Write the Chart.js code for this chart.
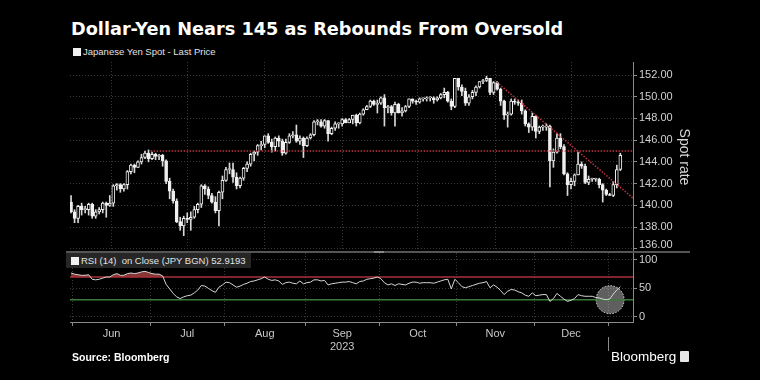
<!DOCTYPE html>
<html><head><meta charset="utf-8">
<script src="https://cdn.jsdelivr.net/npm/chart.js@4.4.1/dist/chart.umd.min.js"></script>
<style>
html,body{margin:0;padding:0;background:#000;}
#wrap{position:relative;width:760px;height:380px;overflow:hidden;background:#000;font-family:'Liberation Sans',Arial,sans-serif;}
#title{position:absolute;left:71px;top:19px;color:#fff;font-family:'DejaVu Sans',sans-serif;font-weight:bold;font-size:17.7px;line-height:20px;white-space:nowrap;}
.leg{position:absolute;color:#e2e2e2;font-size:9.5px;white-space:nowrap;line-height:12px;}
.sq{display:inline-block;width:8px;height:8px;background:#f0f0f0;margin-right:2px;vertical-align:-0.5px;}
#c1{position:absolute;left:0;top:0;}
#c2{position:absolute;left:0;top:253px;}
#sep{position:absolute;left:66px;top:251px;width:624px;height:2px;background:#555;}
#handle{position:absolute;left:374px;top:251px;width:10px;height:2px;background:#888;}
#rsiBox{position:absolute;left:66px;top:253px;width:185px;height:15px;background:#262626;}
#src{position:absolute;left:72px;top:351px;color:#fff;font-weight:bold;font-size:10.5px;white-space:nowrap;}
#logo{position:absolute;left:611px;top:349px;color:#fff;font-size:13.5px;white-space:nowrap;}
#logo .ic{display:inline-block;width:9px;height:11px;background:#e8e8e8;border-radius:1px;margin-left:4px;vertical-align:-1px;}
</style></head>
<body><div id="wrap">
<div id="title">Dollar-Yen Nears 145 as Rebounds From Oversold</div>
<div class="leg" style="left:73px;top:46px;"><span class="sq"></span>Japanese Yen Spot - Last Price</div>
<canvas id="c1" width="760" height="253"></canvas>
<canvas id="c2" width="760" height="127"></canvas>
<div id="sep"></div><div id="handle"></div>
<div id="rsiBox"></div>
<div class="leg" style="left:71px;top:255px;"><span class="sq"></span>RSI (14)&nbsp;&nbsp;on Close (JPY BGN) 52.9193</div>
<div id="src">Source: Bloomberg</div>
<div id="logo">Bloomberg<span class="ic"></span></div>
</div>
<script>
// ---------- data ----------
const dates = [
'2023-05-31',
'2023-06-01','2023-06-02','2023-06-05','2023-06-06','2023-06-07','2023-06-08','2023-06-09','2023-06-12','2023-06-13','2023-06-14','2023-06-15','2023-06-16','2023-06-19','2023-06-20','2023-06-21','2023-06-22','2023-06-23','2023-06-26','2023-06-27','2023-06-28','2023-06-29','2023-06-30',
'2023-07-03','2023-07-04','2023-07-05','2023-07-06','2023-07-07','2023-07-10','2023-07-11','2023-07-12','2023-07-13','2023-07-14','2023-07-17','2023-07-18','2023-07-19','2023-07-20','2023-07-21','2023-07-24','2023-07-25','2023-07-26','2023-07-27','2023-07-28','2023-07-31',
'2023-08-01','2023-08-02','2023-08-03','2023-08-04','2023-08-07','2023-08-08','2023-08-09','2023-08-10','2023-08-11','2023-08-14','2023-08-15','2023-08-16','2023-08-17','2023-08-18','2023-08-21','2023-08-22','2023-08-23','2023-08-24','2023-08-25','2023-08-28','2023-08-29','2023-08-30','2023-08-31',
'2023-09-01','2023-09-04','2023-09-05','2023-09-06','2023-09-07','2023-09-08','2023-09-11','2023-09-12','2023-09-13','2023-09-14','2023-09-15','2023-09-18','2023-09-19','2023-09-20','2023-09-21','2023-09-22','2023-09-25','2023-09-26','2023-09-27','2023-09-28','2023-09-29',
'2023-10-02','2023-10-03','2023-10-04','2023-10-05','2023-10-06','2023-10-09','2023-10-10','2023-10-11','2023-10-12','2023-10-13','2023-10-16','2023-10-17','2023-10-18','2023-10-19','2023-10-20','2023-10-23','2023-10-24','2023-10-25','2023-10-26','2023-10-27','2023-10-30','2023-10-31',
'2023-11-01','2023-11-02','2023-11-03','2023-11-06','2023-11-07','2023-11-08','2023-11-09','2023-11-10','2023-11-13','2023-11-14','2023-11-15','2023-11-16','2023-11-17','2023-11-20','2023-11-21','2023-11-22','2023-11-23','2023-11-24','2023-11-27','2023-11-28','2023-11-29','2023-11-30',
'2023-12-01','2023-12-04','2023-12-05','2023-12-06','2023-12-07','2023-12-08','2023-12-11','2023-12-12','2023-12-13','2023-12-14','2023-12-15','2023-12-18','2023-12-19','2023-12-20','2023-12-21','2023-12-22','2023-12-25','2023-12-26','2023-12-27','2023-12-28','2023-12-29',
'2024-01-01','2024-01-02','2024-01-03','2024-01-04'
];
const openPx = [
140.3,
139.4,138.8,139.9,139.6,139.6,140.1,139.0,139.4,139.6,140.2,140.0,140.2,141.8,141.9,141.5,141.9,143.1,143.7,143.5,144.0,144.4,144.8,
144.3,144.7,144.5,144.6,144.1,142.2,141.3,140.4,138.5,138.1,138.8,138.7,138.9,139.6,140.1,141.8,141.5,140.9,140.3,139.5,141.2,
142.3,143.3,143.3,142.6,141.8,142.5,143.4,143.8,144.7,144.9,145.5,145.6,146.4,145.8,145.4,146.2,145.9,144.8,145.8,146.4,146.5,145.9,146.2,
145.5,146.2,146.5,147.7,147.7,147.3,147.8,146.6,147.1,147.5,147.5,147.9,147.6,147.9,148.3,147.6,148.4,148.8,149.1,149.6,149.3,
149.4,149.9,149.0,149.1,148.5,149.3,148.5,148.7,149.1,149.8,149.6,149.5,149.8,149.8,149.9,149.9,149.7,149.9,150.2,150.4,149.6,149.1,
151.7,150.9,150.5,149.4,150.0,150.4,150.9,151.4,151.5,151.7,150.4,151.3,150.7,149.6,148.3,148.4,149.6,149.5,149.4,148.7,147.5,147.2,
148.2,146.8,147.2,147.2,147.3,144.1,144.9,146.2,145.4,142.9,141.9,142.2,142.8,143.8,143.6,142.1,142.4,142.4,142.4,141.9,141.4,
141.0,140.9,141.9,143.3
];
const highPx = [
140.9,
139.6,140.0,140.2,139.9,140.2,140.2,139.6,139.8,140.3,140.3,140.9,141.9,142.0,142.0,142.0,143.2,143.8,143.8,144.1,144.7,145.0,145.1,
144.9,144.8,144.7,144.7,144.2,142.5,141.5,140.6,138.9,139.0,139.3,139.4,139.9,140.2,141.9,141.9,141.7,141.1,140.8,141.3,142.7,
143.5,143.9,143.9,143.0,142.6,143.5,144.0,144.8,145.0,145.6,145.9,146.4,146.6,146.1,146.3,146.4,146.1,146.1,146.6,146.8,147.4,146.4,146.3,
146.3,146.6,147.8,147.9,147.9,147.9,147.8,147.2,147.7,147.6,148.0,148.0,148.0,148.3,148.4,148.5,148.9,149.2,149.7,149.7,149.7,
150.0,150.2,149.2,149.2,149.5,149.4,149.0,149.2,149.8,149.8,149.7,149.9,149.9,150.0,150.0,150.0,150.0,150.3,150.8,150.5,149.8,151.7,
151.7,151.1,150.8,150.2,150.6,151.0,151.4,151.6,151.9,151.7,151.4,151.4,150.8,149.7,148.6,149.8,149.8,149.7,149.7,148.8,147.6,148.5,
148.3,147.3,147.4,147.5,147.4,145.2,146.6,146.6,145.6,143.0,142.5,142.9,144.9,144.0,143.8,142.7,142.5,142.5,142.5,142.0,141.5,
141.1,142.2,143.7,144.8
];
const lowPx = [
139.3,
138.4,138.4,139.1,139.3,139.1,138.8,138.8,139.2,139.3,138.9,139.9,139.9,141.4,141.2,141.3,141.5,142.9,143.0,143.5,143.8,144.3,144.0,
144.2,144.2,144.2,143.6,142.0,140.6,140.2,138.4,137.7,137.2,138.4,137.7,138.8,139.3,139.8,141.0,140.6,140.2,139.3,138.1,140.6,
142.2,142.9,142.1,141.5,141.6,142.3,143.1,143.6,144.1,144.6,145.1,145.3,145.7,144.9,145.0,145.4,144.6,144.7,145.7,146.2,145.8,145.6,144.4,
145.4,146.1,146.4,147.4,147.2,147.1,145.9,146.5,146.9,147.1,147.3,147.6,147.6,147.5,147.3,147.5,148.3,148.8,149.0,149.2,148.5,
149.3,147.3,148.5,148.3,147.3,148.5,148.2,148.6,149.0,149.4,149.3,149.4,149.6,149.6,149.6,149.4,149.6,149.8,149.9,149.5,148.8,149.0,
150.6,150.1,149.2,149.2,149.8,150.1,150.8,151.2,151.4,150.2,150.2,150.6,149.2,147.9,147.2,148.3,149.3,149.2,148.4,147.3,146.7,146.9,
146.2,146.6,146.9,146.9,141.7,143.5,144.8,145.2,142.8,140.9,141.5,141.8,142.8,143.4,142.0,141.9,142.2,142.2,141.6,140.3,140.9,
140.9,140.8,141.6,143.2
];
const closePx = [
139.4,
138.8,139.9,139.6,139.6,140.1,139.0,139.4,139.6,140.2,140.0,140.2,141.8,141.9,141.5,141.9,143.1,143.7,143.5,144.0,144.4,144.8,144.3,
144.7,144.5,144.6,144.1,142.2,141.3,140.4,138.5,138.1,138.8,138.7,138.9,139.6,140.1,141.8,141.5,140.9,140.3,139.5,141.2,142.3,
143.3,143.3,142.6,141.8,142.5,143.4,143.8,144.7,144.9,145.5,145.6,146.4,145.8,145.4,146.2,145.9,144.8,145.8,146.4,146.5,145.9,146.2,145.5,
146.2,146.5,147.7,147.7,147.3,147.8,146.6,147.1,147.5,147.5,147.9,147.6,147.9,148.3,147.6,148.4,148.8,149.1,149.6,149.3,149.4,
149.9,149.0,149.1,148.5,149.3,148.5,148.7,149.1,149.8,149.6,149.5,149.8,149.8,149.9,149.9,149.7,149.9,150.2,150.4,149.6,149.1,151.7,
150.9,150.5,149.4,150.0,150.4,150.9,151.4,151.5,151.7,150.4,151.3,150.7,149.6,148.3,148.4,149.6,149.5,149.4,148.7,147.5,147.2,148.2,
146.8,147.2,147.2,147.3,144.1,144.9,146.2,145.4,142.9,141.9,142.2,142.8,143.8,143.6,142.1,142.4,142.4,142.4,141.9,141.4,141.0,
140.9,141.9,143.3,144.6
];
const rsi = [
77,75,74,73,73,74,66,65,66,68,
70,70,74,76,73,73,76,77,76,77,
79,80,78,76,75,75,72,57,49,41,
35,32,35,37,38,42,47,55,54,50,
46,43,52,56,61,60,56,52,54,57,
59,62,63,65,67,70,66,64,65,63,
57,60,61,59,58,63,58,60,61,65,
65,63,64,56,58,59,60,61,61,62,
60,58,62,63,66,67,68,70,67,60,
56,58,55,58,57,56,59,61,61,59,
60,60,60,59,61,63,65,66,49,66,
60,53,51,53,55,57,59,60,62,51,
56,52,46,39,45,48,47,44,42,38,
36,42,37,38,39,39,27,32,41,36,
31,27,29,32,39,37,36,36,36,34,
33,31,30,31,40,47,53
];
const monthLabels = ['Jun','Jul','Aug','Sep','Oct','Nov','Dec'];
const yearLabel = '2023';
const yearUnderMonth = 'Sep';
const priceTicks = [136,138,140,142,144,146,148,150,152];
const rsiTicks = [0,50,100];
const resistancePx = 145;           // dotted horizontal level
const resistanceFrom = 22.6;        // index where it starts
const trendStart = [120.9, 151.35]; // [index, price]
const trendEnd = [159.6, 140.66];
const rsiUpper = 70, rsiLower = 30;
const rsiMarker = [153.1, 30];      // highlighted circle [index, rsi]

// ---------- layout helpers ----------
const xMin = -0.3, xMax = 159.6;
const months = dates.map(d => d.slice(0, 7));
const boundaries = [];
for (let i = 1; i < dates.length; i++) if (months[i] !== months[i - 1]) boundaries.push(i - 0.5);
const mids = [];
for (let k = 0; k < boundaries.length - 1 && k < monthLabels.length; k++) {
  const lab = monthLabels[k] === yearUnderMonth ? [monthLabels[k], yearLabel] : monthLabels[k];
  mids.push({ value: (boundaries[k] + boundaries[k + 1]) / 2, lab: lab, b: false });
}

Chart.defaults.font.family = "'Liberation Sans', Arial, sans-serif";
Chart.defaults.color = '#c8c8c8';
Chart.defaults.animation = false;

const GRID = '#3a3a3a';
const AXIS = '#8a8a8a';
const RED = '#c23440';
const TICKCOL = '#d0d0d0';
const noPad = s => { s.paddingTop = 0; s.paddingBottom = 0; };
const fmtPx = v => Number(v).toFixed(2);

// the lowest price label sits at the panel's bottom edge; lift it inside like the original
const bottomLabel = {
  id: 'bottomLabel',
  afterDraw(chart) {
    const y = chart.scales.y, ctx = chart.ctx;
    ctx.save();
    ctx.font = "11px 'Liberation Sans', Arial, sans-serif";
    ctx.fillStyle = TICKCOL; ctx.textAlign = 'left'; ctx.textBaseline = 'middle';
    ctx.fillText(fmtPx(priceTicks[0]), y.left + 6, Math.min(y.getPixelForValue(priceTicks[0]), chart.chartArea.bottom - 7));
    ctx.restore();
  }
};

new Chart(document.getElementById('c1'), {
  type: 'bar',
  data: {
    datasets: [
      { type: 'line', data: [{ x: resistanceFrom, y: resistancePx }, { x: xMax, y: resistancePx }],
        borderColor: RED, borderWidth: 1.5, borderDash: [1.5, 1.5], pointRadius: 0, order: 0 },
      { type: 'line', data: [{ x: trendStart[0], y: trendStart[1] }, { x: trendEnd[0], y: trendEnd[1] }],
        borderColor: RED, borderWidth: 1.5, borderDash: [1.5, 1.5], pointRadius: 0, order: 0 },
      { type: 'bar', data: openPx.map((o, i) => ({ x: i, y: [o, closePx[i]] })),
        backgroundColor: ctx => { const i = ctx.dataIndex; if (i === undefined) return '#f0f0f0'; return closePx[i] >= openPx[i] ? '#000' : '#f0f0f0'; },
        borderColor: '#f0f0f0', borderWidth: 1, borderSkipped: false, barThickness: 3, minBarLength: 1, grouped: false, order: 1 },
      { type: 'bar', data: lowPx.map((l, i) => ({ x: i, y: [l, highPx[i]] })),
        backgroundColor: '#d8d8d8', barThickness: 1, grouped: false, order: 2 }
    ]
  },
  options: {
    responsive: false, devicePixelRatio: 1,
    layout: { padding: { left: 70, right: 68, top: 62, bottom: 1 } },
    plugins: { legend: { display: false }, tooltip: { enabled: false } },
    scales: {
      x: { type: 'linear', min: xMin, max: xMax, offset: false,
        afterBuildTicks: s => { s.ticks = boundaries.map(v => ({ value: v })); },
        ticks: { display: false },
        grid: { color: GRID, drawTicks: false, lineWidth: 1 },
        border: { display: false, dash: [1, 2] },
        afterFit: s => { s.height = 0; s.paddingLeft = 0; s.paddingRight = 0; } },
      y: { position: 'right', min: 135.7, max: 153.2,
        afterBuildTicks: s => { s.ticks = priceTicks.map(v => ({ value: v })); },
        afterFit: s => { s.width = 59; noPad(s); },
        ticks: { color: TICKCOL, font: { size: 11 }, padding: 2,
          callback: v => (v === priceTicks[0] ? '' : fmtPx(v)) },
        grid: { color: GRID, tickColor: AXIS, tickLength: 4, tickBorderDash: [], drawTicks: true },
        border: { display: true, color: AXIS, dash: [1, 2] },
        title: { display: true, text: 'Spot rate', color: '#d8d8d8', font: { size: 14 }, padding: 0 } }
    }
  },
  plugins: [bottomLabel]
});

const rsiExtras = {
  id: 'rsiExtras',
  beforeDatasetsDraw(chart) {
    const { ctx, scales: { x, y } } = chart;
    const cx = x.getPixelForValue(rsiMarker[0]), cy = y.getPixelForValue(rsiMarker[1]);
    ctx.save();
    ctx.beginPath(); ctx.arc(cx, cy, 14, 0, Math.PI * 2);
    ctx.fillStyle = 'rgba(190,190,190,0.5)'; ctx.fill();
    ctx.setLineDash([1.5, 1.5]); ctx.strokeStyle = '#e0e0e0'; ctx.lineWidth = 1; ctx.stroke();
    ctx.restore();
  },
  afterDraw(chart) {
    const { ctx, scales: { x } } = chart;
    const px = Math.round(x.getPixelForValue(boundaries[boundaries.length - 1])) + 0.5;
    ctx.save();
    ctx.strokeStyle = '#8a8a8a'; ctx.lineWidth = 1;
    ctx.beginPath(); ctx.moveTo(px, 84); ctx.lineTo(px, 98); ctx.stroke();
    ctx.restore();
  }
};

const rsiPts = rsi.map((v, i) => ({ x: i, y: v }));
new Chart(document.getElementById('c2'), {
  type: 'line',
  data: {
    datasets: [
      { data: rsiPts, borderColor: '#d6d6d6', borderWidth: 1, pointRadius: 0, order: 0,
        fill: { target: { value: rsiUpper }, above: 'rgba(160,62,62,0.85)', below: 'rgba(0,0,0,0)' } },
      { data: rsiPts, borderColor: 'rgba(0,0,0,0)', borderWidth: 0, pointRadius: 0, order: 3,
        fill: { target: { value: rsiLower }, above: 'rgba(0,0,0,0)', below: 'rgba(60,120,60,0.6)' } },
      { data: [{ x: xMin, y: rsiUpper }, { x: xMax, y: rsiUpper }], borderColor: '#a8303a', borderWidth: 1.5, pointRadius: 0, order: 1 },
      { data: [{ x: xMin, y: rsiLower }, { x: xMax, y: rsiLower }], borderColor: '#3a7a3a', borderWidth: 1.5, pointRadius: 0, order: 1 }
    ]
  },
  options: {
    responsive: false, devicePixelRatio: 1,
    layout: { padding: { left: 70, right: 68, top: 0, bottom: 0 } },
    plugins: { legend: { display: false }, tooltip: { enabled: false }, filler: { drawTime: 'beforeDatasetsDraw' } },
    scales: {
      x: { type: 'linear', min: xMin, max: xMax, offset: false,
        afterBuildTicks: s => {
          s.ticks = boundaries.map(v => ({ value: v, b: true })).concat(mids.map(m => ({ value: m.value, b: false, lab: m.lab })))
            .sort((a, b) => a.value - b.value);
        },
        ticks: { autoSkip: false, maxRotation: 0, color: '#c8c8c8', font: { size: 11 }, padding: 1,
          callback: function (v, idx, ticks) { return ticks[idx].lab || ''; } },
        grid: { color: c => (c.tick && c.tick.b) ? GRID : 'rgba(0,0,0,0)',
          tickColor: c => (c.tick && c.tick.b) ? AXIS : 'rgba(0,0,0,0)', tickLength: 4, tickBorderDash: [] },
        border: { display: true, color: AXIS, dash: [1, 2] },
        afterFit: s => { s.height = 58; s.paddingLeft = 0; s.paddingRight = 0; } },
      y: { position: 'right', min: -9.3, max: 112.3,
        afterBuildTicks: s => { s.ticks = rsiTicks.map(v => ({ value: v })); },
        afterFit: s => { s.width = 59; noPad(s); },
        ticks: { color: TICKCOL, font: { size: 11 }, padding: 2 },
        grid: { color: GRID, tickColor: AXIS, tickLength: 4, tickBorderDash: [] },
        border: { display: true, color: AXIS, dash: [1, 2] } }
    }
  },
  plugins: [rsiExtras]
});
</script>
</body></html>
